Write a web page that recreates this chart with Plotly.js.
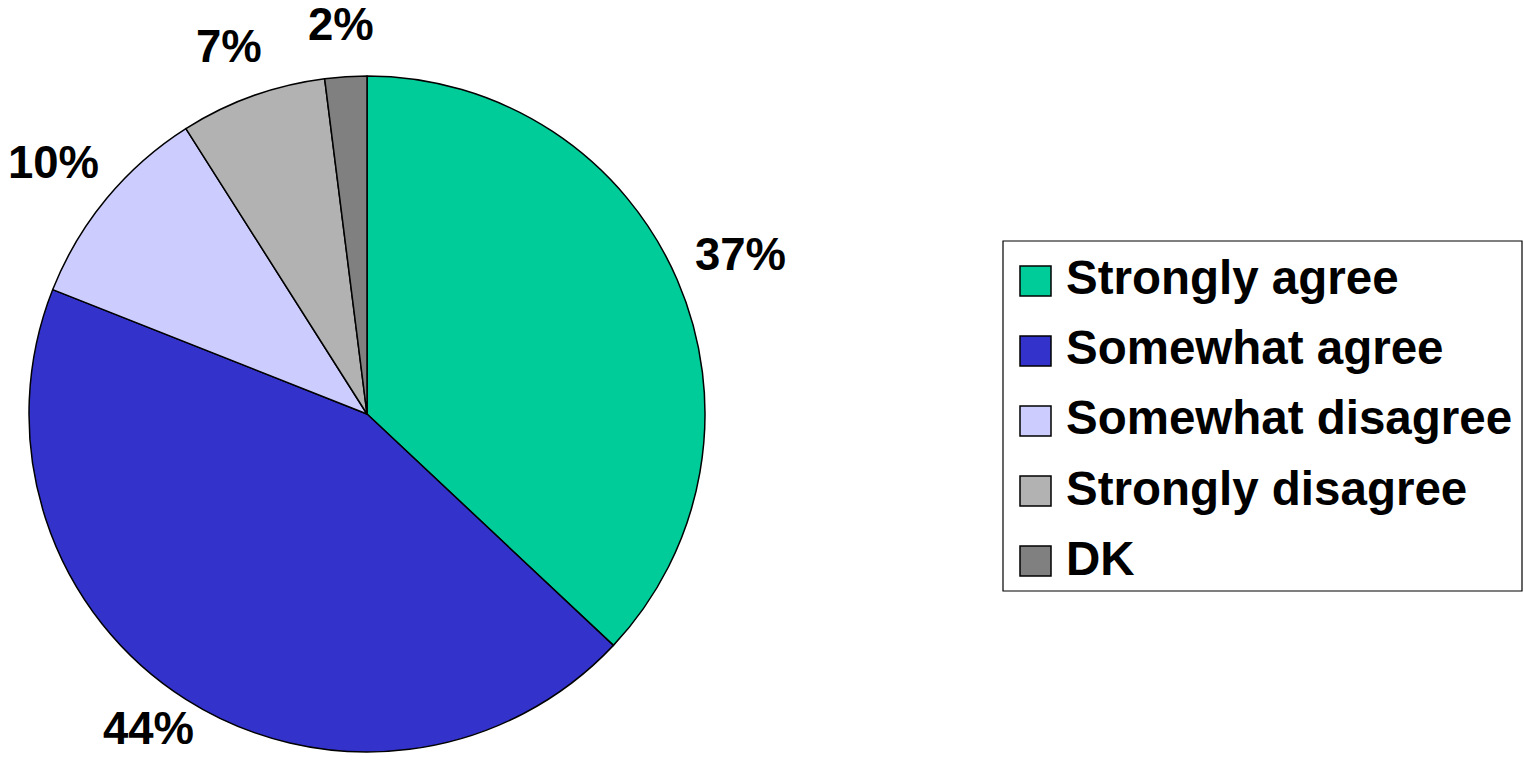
<!DOCTYPE html>
<html>
<head>
<meta charset="utf-8">
<script src="https://cdn.plot.ly/plotly-3.0.1.min.js"></script>
<style>html,body{margin:0;padding:0;background:#fff;}#chart{width:1524px;height:775px;}</style>
</head>
<body>
<div id="chart"></div>
<script>
const categories = ["Strongly agree", "Somewhat agree", "Somewhat disagree", "Strongly disagree", "DK"];
const values = [37, 44, 10, 7, 2];
const colors = ["#00CC99", "#3333CC", "#CCCCFF", "#B2B2B2", "#808080"];

const W = 1524, H = 775;
const FONT = "Liberation Sans, Arial, sans-serif";
const cx = 367, cy = 414, R = 338;
const px2x = p => p / W;
const px2y = p => 1 - p / H;

const total = values.reduce((a, b) => a + b, 0);
const annotations = [];
const shapes = [];

// slice percentage labels placed outside the pie
let cum = 0;
values.forEach((v, i) => {
  const mid = (cum + v / 2) / total * 2 * Math.PI;
  cum += v;
  const ux = Math.sin(mid), uy = -Math.cos(mid);
  const r0 = R + 27, hw = 42, hh = 17;
  const lx = cx + r0 * ux + hw * ux;
  const ly = cy + r0 * uy + hh * uy - 8;
  annotations.push({
    xref: "paper", yref: "paper", x: px2x(lx), y: px2y(ly),
    xanchor: "center", yanchor: "middle", showarrow: false,
    text: "<b>" + Math.round(v / total * 100) + "%</b>",
    font: {family: FONT, size: 45.5, color: "#000"}
  });
});

// legend box
const lgX0 = 1003, lgX1 = 1522, lgY0 = 241, lgY1 = 591;
shapes.push({type: "rect", xref: "paper", yref: "paper",
  x0: px2x(lgX0), x1: px2x(lgX1), y0: px2y(lgY1), y1: px2y(lgY0),
  line: {color: "#000", width: 1.2}, fillcolor: "rgba(0,0,0,0)"});
categories.forEach((c, i) => {
  const yc = 281 + i * 70;
  shapes.push({type: "rect", xref: "paper", yref: "paper",
    x0: px2x(1020), x1: px2x(1051), y0: px2y(yc + 15), y1: px2y(yc - 15),
    line: {color: "#000", width: 1.5}, fillcolor: colors[i]});
  annotations.push({xref: "paper", yref: "paper", x: px2x(1064), y: px2y(yc - 3),
    xanchor: "left", yanchor: "middle", showarrow: false,
    text: "<b>" + c + "</b>", font: {family: FONT, size: 47.5, color: "#000"}});
});

const data = [{
  type: "pie",
  labels: categories,
  values: values,
  sort: false,
  direction: "clockwise",
  rotation: 0,
  textinfo: "none",
  hoverinfo: "label+percent",
  marker: {colors: colors, line: {color: "#000", width: 1.5}},
  domain: {x: [px2x(cx - R), px2x(cx + R)], y: [px2y(cy + R), px2y(cy - R)]},
  showlegend: false
}];

const layout = {
  width: W, height: H,
  margin: {l: 0, r: 0, t: 0, b: 0},
  paper_bgcolor: "#fff",
  plot_bgcolor: "#fff",
  showlegend: false,
  annotations: annotations,
  shapes: shapes
};

Plotly.newPlot("chart", data, layout, {displayModeBar: false, staticPlot: true});
</script>
</body>
</html>
